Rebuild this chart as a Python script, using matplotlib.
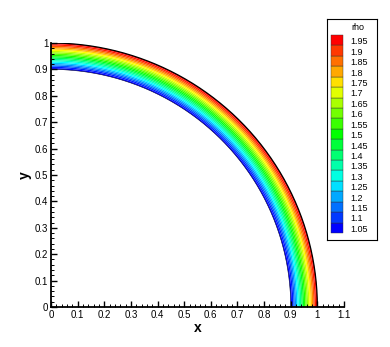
import numpy as np
import matplotlib
matplotlib.use("Agg")
import matplotlib.pyplot as plt
from matplotlib.colors import LinearSegmentedColormap, Normalize
from matplotlib.ticker import MultipleLocator

plt.rcParams['font.family'] = ['Liberation Sans', 'DejaVu Sans']

# radial profile of rho across the ring
r_prof = [0.9, 0.925, 0.95, 0.975, 1.0]
rho_prof = [1.0, 1.25, 1.5, 1.75, 2.0]

# contour levels shown in the legend
levels = [1.05, 1.1, 1.15, 1.2, 1.25, 1.3, 1.35, 1.4, 1.45, 1.5,
          1.55, 1.6, 1.65, 1.7, 1.75, 1.8, 1.85, 1.9, 1.95]
level_labels = ["1.05", "1.1", "1.15", "1.2", "1.25", "1.3", "1.35", "1.4", "1.45", "1.5",
                "1.55", "1.6", "1.65", "1.7", "1.75", "1.8", "1.85", "1.9", "1.95"]
xticks = [0, 0.1, 0.2, 0.3, 0.4, 0.5, 0.6, 0.7, 0.8, 0.9, 1.0, 1.1]
xticklabels = ["0", "0.1", "0.2", "0.3", "0.4", "0.5", "0.6", "0.7", "0.8", "0.9", "1", "1.1"]
yticks = [0, 0.1, 0.2, 0.3, 0.4, 0.5, 0.6, 0.7, 0.8, 0.9, 1.0]
yticklabels = ["0", "0.1", "0.2", "0.3", "0.4", "0.5", "0.6", "0.7", "0.8", "0.9", "1"]

cmap = LinearSegmentedColormap.from_list(
    "tp_rainbow", ["#0000ff", "#00ffff", "#00ff00", "#ffff00", "#ff0000"])
norm = Normalize(vmin=levels[0], vmax=levels[-1])

# polar mesh of the quarter ring
r = np.linspace(r_prof[0], r_prof[-1], 60)
th = np.linspace(0, np.pi / 2, 200)
R, TH = np.meshgrid(r, th)
X = R * np.cos(TH)
Y = R * np.sin(TH)
RHO = np.interp(R, r_prof, rho_prof)

fig = plt.figure(figsize=(3.9, 3.47), dpi=100)
ax = fig.add_axes([51 / 390, 1 - 307 / 347, 293 / 390, 264 / 347])

bounds = [0.5] + levels + [2.5]
ax.contourf(X, Y, RHO, levels=bounds, cmap=cmap, norm=norm, antialiased=True)
ax.plot(r_prof[-1] * np.cos(th), r_prof[-1] * np.sin(th), color='k', lw=0.9)
ax.plot(r_prof[0] * np.cos(th), r_prof[0] * np.sin(th), color='#000030', lw=0.4)

ax.set_xlim(0, 1.1)
ax.set_ylim(0, 1.0)
ax.set_xticks(xticks)
ax.set_xticklabels(xticklabels)
ax.set_yticks(yticks)
ax.set_yticklabels(yticklabels)
ax.xaxis.set_minor_locator(MultipleLocator(0.02))
ax.yaxis.set_minor_locator(MultipleLocator(0.02))
ax.tick_params(which='major', direction='in', length=4.5, width=1.0, labelsize=7, pad=2)
ax.tick_params(which='minor', direction='in', length=2.3, width=0.7)
ax.spines['top'].set_visible(False)
ax.spines['right'].set_visible(False)
ax.spines['left'].set_linewidth(1.3)
ax.spines['bottom'].set_linewidth(1.3)
ax.set_xlabel("x", fontsize=10, fontweight='bold', labelpad=1)
ax.set_ylabel("y", fontsize=10, fontweight='bold', labelpad=2)

# legend box
lg = fig.add_axes([327 / 390, 1 - 240 / 347, 50 / 390, 221 / 347])
lg.set_xlim(0, 50)
lg.set_ylim(0.991, 2.052)
lg.set_xticks([])
lg.set_yticks([])
for s in lg.spines.values():
    s.set_linewidth(0.8)
lg.barh(levels, 12, left=4, height=0.05, color=cmap(norm(levels)),
        edgecolor='#333333', linewidth=0.3)
for v, lab in zip(levels, level_labels):
    lg.text(23, v - 0.008, lab, fontsize=6.5, va='center', ha='left')
lg.text(31, 2.012, "rho", fontsize=6.5, va='center', ha='center')

fig.savefig("out.png", dpi=100)
